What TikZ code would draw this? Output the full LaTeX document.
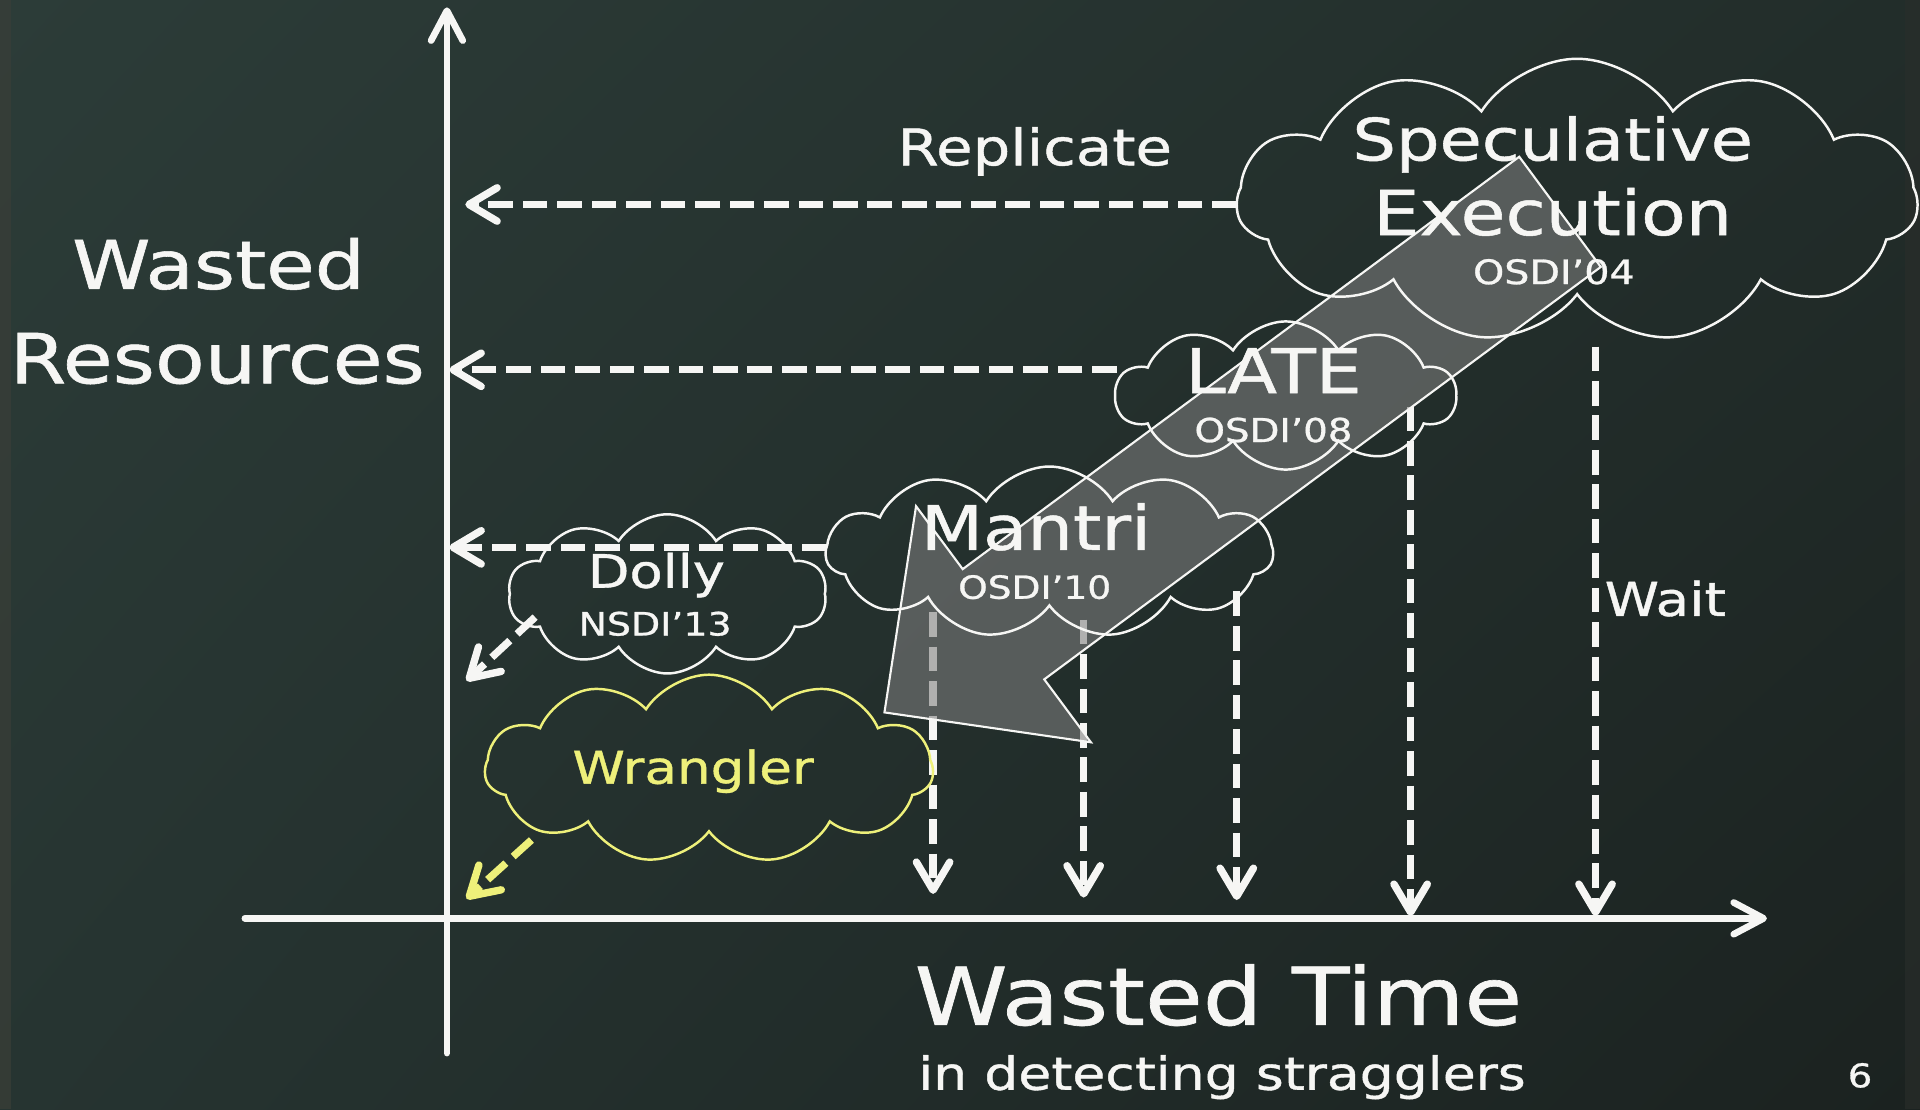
\documentclass[tikz,border=0pt]{standalone}
\usepackage{fontspec}
\setmainfont{DejaVu Sans}
\newfontfamily\chalkfont[FakeBold=0.8]{DejaVu Sans}
\usepackage{graphicx}
\usetikzlibrary{arrows.meta,shapes.symbols,shadings}

\definecolor{boardA}{HTML}{2C3C38}
\definecolor{boardB}{HTML}{222D2A}
\definecolor{boardC}{HTML}{263431}
\definecolor{boardD}{HTML}{1B2220}
\definecolor{frameL}{HTML}{3A3E38}
\definecolor{frameR}{HTML}{2A2E2B}
\definecolor{chalk}{HTML}{F6F6F4}
\definecolor{chalkyellow}{HTML}{EEF07A}
\definecolor{bandgray}{HTML}{7E7E7E}

% one drawing unit
\newlength\upx
\setlength\upx{0.012245cm}
\newsavebox\fitbox
% set #2 to a width of #1 units, slightly flattened like chalk lettering
\newcommand\fitw[2]{%
  \sbox\fitbox{\chalkfont #2}%
  \pgfmathsetmacro\fitx{#1*\upx/\wd\fitbox}%
  \pgfmathsetmacro\fity{0.85*\fitx}%
  \scalebox{\fitx}[\fity]{\usebox\fitbox}}

\tikzset{
  axisline/.style={draw=chalk, line width=1.9pt, line cap=round,
    -{Straight Barb[length=8.5pt, width=9pt, round]}},
  dashline/.style={draw=chalk, line width=2.1pt,
    dash pattern=on 7pt off 2.8pt,
    -{Straight Barb[length=8pt, width=9.5pt, round]}},
  yellowdash/.style={dashline, draw=chalkyellow},
  bubble/.style={cloud, draw=chalk, line width=0.7pt, cloud puffs=11,
    cloud puff arc=115, cloud ignores aspect, inner sep=0pt},
  label/.style={text=chalk, inner sep=0pt, anchor=base},
}

\begin{document}
\begin{tikzpicture}[x=0.012245cm, y=-0.012245cm]
  \useasboundingbox (0,0) rectangle (1568,906);

  % chalkboard
  \shade[upper left=boardA, upper right=boardB, lower left=boardC, lower right=boardD]
    (0,0) rectangle (1568,906);
  \fill[frameL, opacity=0.7] (0,0) rectangle (9,906);
  \fill[frameR, opacity=0.6] (1556,0) rectangle (1568,906);

  % axes
  \coordinate (yaxis0) at (365,860);
  \coordinate (yaxis1) at (365,6);
  \coordinate (xaxis0) at (200,750);
  \coordinate (xaxis1) at (1443,750);
  \draw[axisline] (yaxis0) -- (yaxis1);
  \draw[axisline] (xaxis0) -- (xaxis1);

  % waiting time drops
  \coordinate (v1a) at (762,500);  \coordinate (v1b) at (762,730);
  \coordinate (v2a) at (885,506);  \coordinate (v2b) at (885,733);
  \coordinate (v3a) at (1010,483); \coordinate (v3b) at (1010,735);
  \coordinate (v4a) at (1152,332); \coordinate (v4b) at (1152,748);
  \coordinate (v5a) at (1303,283); \coordinate (v5b) at (1303,748);
  \draw[dashline] (v1a) -- (v1b);
  \draw[dashline] (v2a) -- (v2b);
  \draw[dashline] (v3a) -- (v3b);
  \draw[dashline] (v4a) -- (v4b);
  \draw[dashline] (v5a) -- (v5b);

  % broad arrow of progress
  \coordinate (b1) at (1240.7,128);
  \coordinate (b2) at (1307.3,218);
  \coordinate (b3) at (852.8,554.8);
  \coordinate (b4) at (890.9,606.2);
  \coordinate (b5) at (722.3,581.8);
  \coordinate (b6) at (748.1,413.4);
  \coordinate (b7) at (786.2,464.8);
  \fill[bandgray, fill opacity=0.58] (b1) -- (b2) -- (b3) -- (b4) -- (b5) -- (b6) -- (b7) -- cycle;
  \draw[chalk, line width=0.6pt, line join=miter] (b1) -- (b2) -- (b3) -- (b4) -- (b5) -- (b6) -- (b7) -- cycle;

  % clouds
  \node[bubble, minimum width=556\upx, minimum height=232\upx] (spec) at (1288,164) {};
  \node[bubble, minimum width=278\upx, minimum height=121\upx, cloud puffs=10] (late) at (1050,323) {};
  \node[bubble, minimum width=365\upx, minimum height=140\upx] (mantri) at (857,451) {};
  \node[bubble, minimum width=260\upx, minimum height=130\upx, cloud puffs=10] (dolly) at (545,485) {};
  \node[bubble, draw=chalkyellow, minimum width=366\upx, minimum height=154\upx] (wrangler) at (579,628) {};

  % replication arrows
  \coordinate (h1a) at (1010,167); \coordinate (h1b) at (380,167);
  \coordinate (h2a) at (912,302);  \coordinate (h2b) at (367,302);
  \coordinate (h3a) at (675,447);  \coordinate (h3b) at (367,447);
  \coordinate (d1a) at (437,504);  \coordinate (d1b) at (381,556);
  \coordinate (d2a) at (434,686);  \coordinate (d2b) at (381,734);
  \draw[dashline] (h1a) -- (h1b);
  \draw[dashline] (h2a) -- (h2b);
  \draw[dashline] (h3a) -- (h3b);
  \draw[dashline] (d1a) -- (d1b);
  \draw[yellowdash] (d2a) -- (d2b);

  % labels
  \node[label] (wasted) at (178.5,236) {\fitw{239}{Wasted}};
  \node[label] (resources) at (177.5,313) {\fitw{339}{Resources}};
  \node[label] (replicate) at (845,135) {\fitw{224}{Replicate}};
  \node[label] (specA) at (1268,131) {\fitw{327}{Speculative}};
  \node[label] (specB) at (1268,192) {\fitw{293}{Execution}};
  \node[label] (specC) at (1269,232) {\fitw{132}{OSDI’04}};
  \node[label] (lateA) at (1040,321) {\fitw{144}{LATE}};
  \node[label] (lateB) at (1040,361) {\fitw{129}{OSDI’08}};
  \node[label] (mantriA) at (846,449) {\fitw{188}{Mantri}};
  \node[label] (mantriB) at (845,489) {\fitw{125}{OSDI’10}};
  \node[label] (dollyA) at (536,480) {\fitw{112}{Dolly}};
  \node[label] (dollyB) at (535,519) {\fitw{125}{NSDI’13}};
  \node[label, text=chalkyellow] (wranglerT) at (566,640) {\fitw{197}{Wrangler}};
  \node[label] (wait) at (1360,503) {\fitw{99}{Wait}};
  \node[label] (wtime) at (995,837) {\fitw{496}{Wasted Time}};
  \node[label] (wsub) at (998,890) {\fitw{496}{in detecting stragglers}};
  \node[label] (page) at (1519,888) {\fitw{20}{6}};
\end{tikzpicture}
\end{document}
